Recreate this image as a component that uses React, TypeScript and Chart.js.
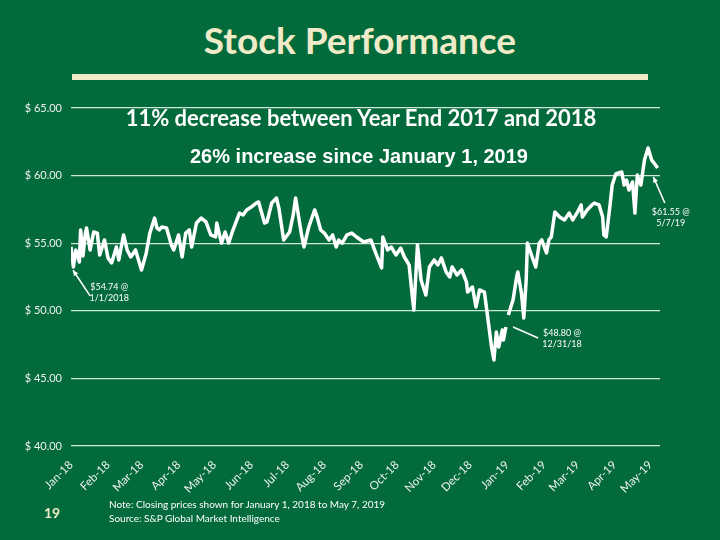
import React, { useEffect, useRef } from "react";
import { Chart, registerables } from "chart.js";

Chart.register(...registerables);

// Days since 1 Jan 2018 and closing prices (USD). null = gap in the line.
const tradingDays: number[] = [
  0, 2, 4, 7, 8, 10, 12, 13, 16, 19, 22, 24, 28, 31, 34, 38, 40, 44, 47, 50,
  54, 57, 59, 63, 66, 70, 72, 74, 76, 80, 84, 86, 90, 93, 96, 99, 101, 105, 109, 113,
  117, 121, 122, 126, 129, 132, 135, 141, 144, 147, 151, 155, 157, 162, 164, 168, 172, 174, 178, 183,
  186, 188, 193, 195, 199, 204, 206, 209, 212, 216, 219, 222, 224, 227, 231, 235, 239, 245, 251, 255,
  260, 261, 265, 268, 272, 276, 279, 283, 286, 287, 290, 293, 297, 300, 304, 307, 310, 314, 317, 319,
  323, 327, 331, 332, 336, 339, 342, 346, 348, 352, 354, 356, 358, 361, 362, 364, 365, 366, 370, 373,
  374, 377, 379, 381, 382, 386, 389, 392, 394, 398, 400, 402, 405, 409, 413, 417, 420, 424, 427, 428,
  432, 436, 438, 442, 445, 446, 448, 451, 453, 456, 461, 463, 465, 467, 470, 472, 474, 477, 480, 483,
  486, 488, 491,
];
const closePrices: (number | null)[] = [
  54.74, 53.24, 54.5, 53.61, 55.98, 54.05, 55.75, 56.12, 54.5, 55.83, 55.75, 54.13, 55.24, 53.91, 53.54, 54.72, 53.76, 55.61, 54.5, 53.98,
  54.5, 53.61, 53.02, 54.28, 55.75, 56.86, 56.12, 55.98, 56.2, 56.12, 54.87, 54.5, 55.61, 53.98, 55.75, 55.98, 54.72, 56.49, 56.86, 56.57,
  55.61, 55.46, 56.49, 55.01, 55.83, 55.01, 55.83, 57.23, 57.09, 57.46, 57.68, 57.97, 58.05, 56.49, 56.57, 57.97, 58.34, 57.6, 55.24, 55.83,
  57.09, 58.34, 55.61, 54.72, 56.2, 57.46, 56.94, 55.98, 55.75, 55.24, 55.61, 54.72, 55.24, 55.01, 55.61, 55.75, 55.46, 55.09, 55.24, 54.28,
  53.17, 55.46, 54.5, 54.72, 54.13, 54.64, 53.98, 53.39, 50.8, 50.06, 54.87, 52.28, 51.17, 53.24, 53.76, 53.39, 53.91, 52.87, 52.5, 53.24,
  52.65, 53.02, 52.13, 51.39, 51.76, 50.28, 51.54, 51.39, 50.06, 47.32, 46.36, 48.43, 47.32, 48.58, 47.84, 48.8, null, 49.69, 50.8, 52.5,
  52.87, 51.32, 49.47, 52.28, 55.01, 53.98, 53.24, 55.01, 55.24, 54.28, 55.24, 55.46, 57.31, 56.94, 56.72, 57.23, 56.72, 57.31, 57.83, 56.94,
  57.46, 57.83, 57.97, 57.83, 56.94, 55.61, 55.46, 57.68, 59.3, 60.12, 60.27, 59.3, 59.67, 58.93, 59.53, 57.23, 60.04, 59.3, 61.15, 62.04,
  61.15, 60.93, 60.56,
];

const monthTickDays = [0, 31, 59, 90, 120, 151, 181, 212, 243, 273, 304, 334, 365, 396, 424, 455, 485];
const monthTickLabels = [
  "Jan-18", "Feb-18", "Mar-18", "Apr-18", "May-18", "Jun-18", "Jul-18", "Aug-18", "Sep-18",
  "Oct-18", "Nov-18", "Dec-18", "Jan-19", "Feb-19", "Mar-19", "Apr-19", "May-19",
];

const priceMin = 40;
const priceMax = 65;
const priceStep = 5;

// Callouts in data coordinates [day, price]
const callouts = [
  { lines: ["$54.74 @", "1/1/2018"], textAt: [32, 51.75], from: [16, 51.1], to: [1.7, 53.0], head: true },
  { lines: ["$61.55 @", "5/7/19"], textAt: [502, 57.3], from: [497, 57.97], to: [487.5, 59.9], head: true },
  { lines: ["$48.80 @", "12/31/18"], textAt: [411, 48.36], from: [391, 47.99], to: [370, 48.8], head: false },
];

const BG = "#036a3c";
const CREAM = "#efebc8";
const GRID = "#cfe8d6";
const TICK = "#eef2ee";

const calloutPlugin = {
  id: "callouts",
  afterDatasetsDraw(chart: any) {
    const { ctx, scales } = chart;
    const xs = scales.x;
    const ys = scales.y;
    ctx.save();
    ctx.strokeStyle = "#ffffff";
    ctx.fillStyle = "#ffffff";
    ctx.lineWidth = 1.6;
    for (const c of callouts) {
      const x1 = xs.getPixelForValue(c.from[0]);
      const y1 = ys.getPixelForValue(c.from[1]);
      const x2 = xs.getPixelForValue(c.to[0]);
      const y2 = ys.getPixelForValue(c.to[1]);
      ctx.beginPath();
      ctx.moveTo(x1, y1);
      ctx.lineTo(x2, y2);
      ctx.stroke();
      if (c.head) {
        const ang = Math.atan2(y2 - y1, x2 - x1);
        const L = 6;
        ctx.beginPath();
        ctx.moveTo(x2, y2);
        ctx.lineTo(x2 - L * Math.cos(ang - 0.45), y2 - L * Math.sin(ang - 0.45));
        ctx.lineTo(x2 - L * Math.cos(ang + 0.45), y2 - L * Math.sin(ang + 0.45));
        ctx.closePath();
        ctx.fill();
      }
      const tx = xs.getPixelForValue(c.textAt[0]);
      const ty = ys.getPixelForValue(c.textAt[1]);
      ctx.font = "9px Lato";
      ctx.textAlign = "center";
      ctx.textBaseline = "middle";
      c.lines.forEach((t, i) => ctx.fillText(t, tx, ty + i * 11));
    }
    ctx.restore();
  },
};

export default function App() {
  const ref = useRef<HTMLCanvasElement>(null);

  useEffect(() => {
    const chart = new Chart(ref.current as HTMLCanvasElement, {
      type: "line",
      data: {
        datasets: [
          {
            data: tradingDays.map((d, i) => ({ x: d, y: closePrices[i] })) as any,
            borderColor: "#ffffff",
            borderWidth: 3.5,
            pointRadius: 0,
            tension: 0,
            spanGaps: false,
            borderJoinStyle: "round",
          },
        ],
      },
      options: {
        animation: false,
        responsive: false,
        layout: { padding: { left: 0, top: 108, right: 60, bottom: 0 } },
        plugins: { legend: { display: false }, tooltip: { enabled: false } },
        scales: {
          x: {
            type: "linear",
            min: 0,
            max: 493,
            grid: { display: false },
            border: { display: false },
            afterBuildTicks: (s: any) => {
              s.ticks = monthTickDays.map((v) => ({ value: v }));
            },
            afterFit: (s: any) => {
              s.height = 94;
            },
            ticks: {
              autoSkip: false,
              minRotation: 45,
              maxRotation: 45,
              padding: 4,
              color: TICK,
              font: { family: "Lato", size: 11.5 },
              callback: (_v: any, i: number) => monthTickLabels[i],
            },
          },
          y: {
            min: priceMin,
            max: priceMax,
            afterFit: (s: any) => {
              s.width = 71;
            },
            grid: { color: GRID, lineWidth: 1.2, drawTicks: false },
            border: { display: false },
            ticks: {
              stepSize: priceStep,
              padding: 9,
              color: TICK,
              font: { family: "Lato", size: 11 },
              callback: (v: any) => "$ " + Number(v).toFixed(2),
            },
          },
        },
      },
      plugins: [calloutPlugin],
    } as any);
    return () => chart.destroy();
  }, []);

  return (
    <div
      style={{
        position: "fixed",
        left: 0,
        top: 0,
        width: 720,
        height: 540,
        background: BG,
        overflow: "hidden",
      }}
    >
      <div
        style={{
          position: "absolute",
          left: 0,
          width: 720,
          top: 21,
          textAlign: "center",
          font: "bold 37px Lato",
          lineHeight: "37px",
          color: CREAM,
        }}
      >
        Stock Performance
      </div>
      <div
        style={{ position: "absolute", left: 72, top: 74, width: 576, height: 6, background: CREAM }}
      />
      <canvas
        ref={ref}
        width={720}
        height={540}
        style={{ position: "absolute", left: 0, top: 0, width: 720, height: 540 }}
      />
      <div
        style={{
          position: "absolute",
          left: 0,
          width: 722,
          top: 107,
          textAlign: "center",
          font: "bold 22px Lato",
          lineHeight: "22px",
          color: "#ffffff",
        }}
      >
        11% decrease between Year End 2017 and 2018
      </div>
      <div
        style={{
          position: "absolute",
          left: 0,
          width: 718,
          top: 146,
          textAlign: "center",
          font: "bold 20px 'Liberation Sans', Arial, sans-serif",
          lineHeight: "20px",
          color: "#ffffff",
        }}
      >
        26% increase since January 1, 2019
      </div>
      <div
        style={{
          position: "absolute",
          left: 44,
          top: 506,
          font: "bold 14px Lato",
          lineHeight: "14px",
          color: CREAM,
        }}
      >
        19
      </div>
      <div
        style={{
          position: "absolute",
          left: 109,
          top: 497,
          font: "10px Lato",
          lineHeight: "14px",
          color: "#ffffff",
        }}
      >
        <div>Note: Closing prices shown for January 1, 2018 to May 7, 2019</div>
        <div>Source: S&amp;P Global Market Intelligence</div>
      </div>
    </div>
  );
}
